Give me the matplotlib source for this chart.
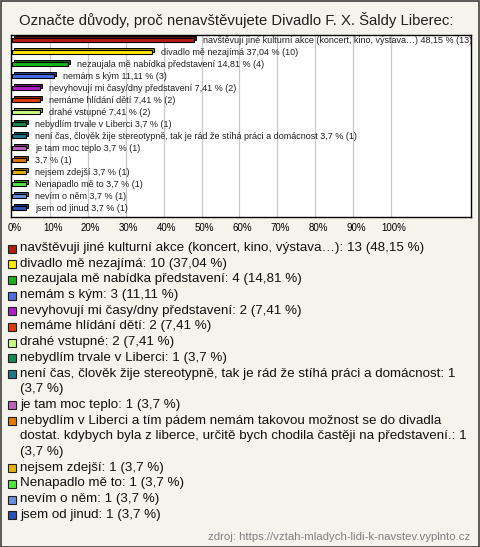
import matplotlib
matplotlib.use("Agg")
import matplotlib.pyplot as plt
import matplotlib.transforms as mtransforms
import matplotlib.colors as mcolors
from matplotlib.patches import Rectangle

plt.rcParams['font.family'] = ['Liberation Sans', 'DejaVu Sans']

title = "Označte důvody, proč nenavštěvujete Divadlo F. X. Šaldy Liberec:"
source = "zdroj: https://vztah-mladych-lidi-k-navstev.vyplnto.cz"

categories = [
    "navštěvuji jiné kulturní akce (koncert, kino, výstava…)",
    "divadlo mě nezajímá",
    "nezaujala mě nabídka představení",
    "nemám s kým",
    "nevyhovují mi časy/dny představení",
    "nemáme hlídání dětí",
    "drahé vstupné",
    "nebydlím trvale v Liberci",
    "není čas, člověk žije stereotypně, tak je rád že stíhá práci a domácnost",
    "je tam moc teplo",
    "nebydlím v Liberci a tím pádem nemám takovou možnost se do divadla dostat. "
    "kdybych byla z liberce, určitě bych chodila častěji na představení.",
    "nejsem zdejší",
    "Nenapadlo mě to",
    "nevím o něm",
    "jsem od jinud",
]
counts = [13, 10, 4, 3, 2, 2, 2, 1, 1, 1, 1, 1, 1, 1, 1]
respondents = 27
colors = ["#b81c0c", "#ffe800", "#18b418", "#4a6ee8", "#b41cc8", "#e03c0c",
          "#c8ff80", "#148c50", "#1c7890", "#c060c0", "#e87800", "#e8b400",
          "#50e840", "#6890e0", "#2850b8"]
ticks = [0, 10, 20, 30, 40, 50, 60, 70, 80, 90, 100]


def fmt(v):
    s = f"{v:.2f}".rstrip("0").rstrip(".")
    return s.replace(".", ",")


def darker(c, k=0.6):
    r, g, b = mcolors.to_rgb(c)
    return (r * k, g * k, b * k)


pcts = [c / respondents * 100 for c in counts]

W, H = 480, 547
fig = plt.figure(figsize=(W / 100, H / 100), dpi=100)
fig.patch.set_facecolor("#f4f3ec")

ax = fig.add_axes([11 / W, 1 - 217 / H, 460 / W, 182 / H])
ax.set_facecolor("white")
ax.set_xlim(-1 / 3.79, 459 / 3.79)
ax.set_ylim(14.75, -0.42)
for t in ticks[1:]:
    ax.axvline(t, color="#c8c8c8", lw=0.9, zorder=0)
ax.set_xticks([])
ax.set_yticks([])
for sp in ax.spines.values():
    sp.set_linewidth(1.0)
    sp.set_color("black")

ypos = list(range(len(categories)))
# back face of the 3D bars
shift = mtransforms.offset_copy(ax.transData, fig=fig, x=2, y=2, units="dots")
ax.barh(ypos, pcts, height=0.36, color=[darker(c) for c in colors],
        edgecolor="black", lw=0.7, transform=shift, zorder=2)
ax.barh(ypos, pcts, height=0.36, color=colors, edgecolor="black", lw=0.8, zorder=3)

lab_tr = mtransforms.offset_copy(ax.transData, fig=fig, x=9, y=0, units="dots")
for y, p, name, c in zip(ypos, pcts, categories, counts):
    name = name if len(name) < 100 else ""
    txt = f"{name} {fmt(p)} % ({c})".strip()
    ax.text(p, y, txt, transform=lab_tr, fontsize=6.5, va="center", ha="left",
            color="#202020", zorder=4, clip_on=False)

# tick labels under the plot
for t in ticks:
    xf = (12 + 3.79 * t) / W
    fig.text(xf + 3 / W, 1 - 228 / H, f"{t}%", fontsize=7, ha="center", va="center")

fig.text(236 / W, 1 - 20 / H, title, fontsize=10.7, ha="center", va="center", color="#202020")

# legend, wrapped by pixel width
renderer = fig.canvas.get_renderer()
legend_fs = 9.6
max_w = 452


def wrap(s):
    lines, cur = [], ""
    for w in s.split(" "):
        trial = (cur + " " + w).strip()
        t = fig.text(0, 0, trial, fontsize=legend_fs)
        width = t.get_window_extent(renderer).width
        t.remove()
        if width > max_w and cur:
            lines.append(cur)
            cur = w
        else:
            cur = trial
    lines.append(cur)
    return lines


y = 248
step = 15.7
for name, c, p, col in zip(categories, counts, pcts, colors):
    lines = wrap(f"{name}: {c} ({fmt(p)} %)")
    fig.patches.append(Rectangle((8 / W, 1 - (y + 4.5) / H), 8 / W, 8 / H,
                                 transform=fig.transFigure, facecolor=col,
                                 edgecolor="#202020", lw=0.8))
    for ln in lines:
        fig.text(20 / W, 1 - y / H, ln, fontsize=legend_fs, ha="left", va="center", color="#111111")
        y += step

fig.text(470 / W, 1 - 537 / H, source, fontsize=8.2, ha="right", va="center", color="#808080")

fig.patches.append(Rectangle((0.5 / W, 0.5 / H), 1 - 1.5 / W, 1 - 1.5 / H,
                             transform=fig.transFigure, fill=False,
                             edgecolor="#404040", lw=1.2))

fig.savefig("out.png", dpi=100, facecolor=fig.get_facecolor())
